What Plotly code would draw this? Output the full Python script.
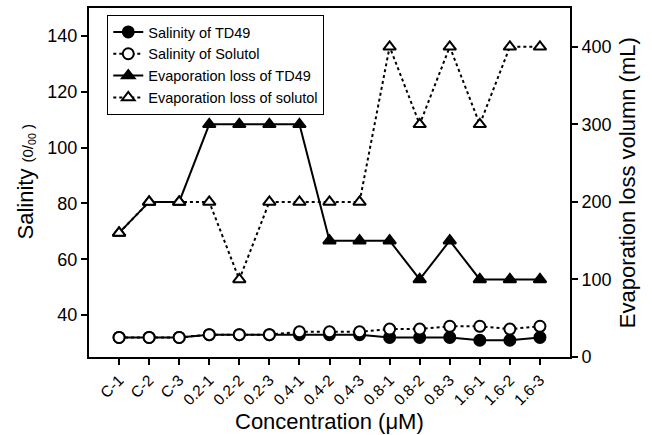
import plotly.graph_objects as go

categories = ["C-1", "C-2", "C-3", "0.2-1", "0.2-2", "0.2-3", "0.4-1", "0.4-2", "0.4-3",
              "0.8-1", "0.8-2", "0.8-3", "1.6-1", "1.6-2", "1.6-3"]
salinity_td49 = [32, 32, 32, 33, 33, 33, 33, 33, 33, 32, 32, 32, 31, 31, 32]
salinity_solutol = [32, 32, 32, 33, 33, 33, 34, 34, 34, 35, 35, 36, 36, 35, 36]
evap_td49 = [160, 200, 200, 300, 300, 300, 300, 150, 150, 150, 100, 150, 100, 100, 100]
evap_solutol = [160, 200, 200, 200, 100, 200, 200, 200, 200, 400, 300, 400, 300, 400, 400]
left_ticks = [40, 60, 80, 100, 120, 140]
right_ticks = [0, 100, 200, 300, 400]

FONT = "Liberation Sans, Arial, sans-serif"
xs = list(range(len(categories)))

fig = go.Figure()
fig.add_trace(go.Scatter(
    x=xs, y=salinity_td49, name="Salinity of TD49", mode="lines+markers",
    line=dict(color="black", width=2, dash="solid"),
    marker=dict(symbol="circle", size=11, color="black", line=dict(color="black", width=2)),
))
fig.add_trace(go.Scatter(
    x=xs, y=salinity_solutol, name="Salinity of Solutol", mode="lines+markers",
    line=dict(color="black", width=2, dash="dot"),
    marker=dict(symbol="circle", size=11, color="white", line=dict(color="black", width=2)),
))
fig.add_trace(go.Scatter(
    x=xs, y=evap_td49, name="Evaporation loss of TD49", mode="lines+markers", yaxis="y2",
    line=dict(color="black", width=2, dash="solid"),
    marker=dict(symbol="triangle-up", size=11, color="black", line=dict(color="black", width=2)),
))
fig.add_trace(go.Scatter(
    x=xs, y=evap_solutol, name="Evaporation loss of solutol", mode="lines+markers", yaxis="y2",
    line=dict(color="black", width=2, dash="dot"),
    marker=dict(symbol="triangle-up", size=11, color="white", line=dict(color="black", width=2)),
))

fig.update_layout(
    width=652, height=435,
    margin=dict(l=89, r=82, t=8, b=78, autoexpand=False),
    paper_bgcolor="white", plot_bgcolor="white",
    font=dict(family=FONT, color="black"),
    showlegend=True,
    legend=dict(
        x=0.038, y=0.98, xanchor="left", yanchor="top",
        bordercolor="black", borderwidth=1, bgcolor="white",
        font=dict(size=14.5, family=FONT, color="black"), tracegroupgap=0,
        itemwidth=30,
    ),
    xaxis=dict(
        range=[-1, 15], tickmode="array", tickvals=xs, ticktext=categories,
        tickangle=-45, tickfont=dict(size=15.5, color="black"), automargin=False,
        showline=True, linecolor="black", linewidth=2, mirror=True,
        ticks="outside", ticklen=6, tickwidth=1.5, tickcolor="black",
        showgrid=False, zeroline=False,
    ),
    yaxis=dict(
        range=[25, 150], tickmode="array", tickvals=left_ticks,
        tickfont=dict(size=18, color="black"), automargin=False,
        showline=True, linecolor="black", linewidth=2,
        ticks="outside", ticklen=6, tickwidth=1.5, tickcolor="black",
        showgrid=False, zeroline=False,
    ),
    yaxis2=dict(
        range=[0, 450], tickmode="array", tickvals=right_ticks,
        overlaying="y", side="right", tickfont=dict(size=18, color="black"), automargin=False,
        showline=True, linecolor="black", linewidth=2,
        ticks="outside", ticklen=6, tickwidth=1.5, tickcolor="black",
        showgrid=False, zeroline=False,
    ),
    annotations=[
        dict(text="Concentration (\u03bcM)", xref="paper", yref="paper",
             x=0.5, y=-0.185, xanchor="center", yanchor="middle", showarrow=False,
             font=dict(size=22, color="black")),
        dict(text="Salinity <span style='font-size:15px'>(0/<sub>00</sub> )</span>",
             xref="paper", yref="paper", x=-0.133, y=0.5, xanchor="center", yanchor="middle",
             textangle=-90, showarrow=False, font=dict(size=22, color="black")),
        dict(text="Evaporation loss volumn (mL)", xref="paper", yref="paper",
             x=1.12, y=0.5, xanchor="center", yanchor="middle",
             textangle=-90, showarrow=False, font=dict(size=22, color="black")),
    ],
)

fig.write_html("out.html", config={"displayModeBar": False},
               post_script="document.body.style.margin='0';")
